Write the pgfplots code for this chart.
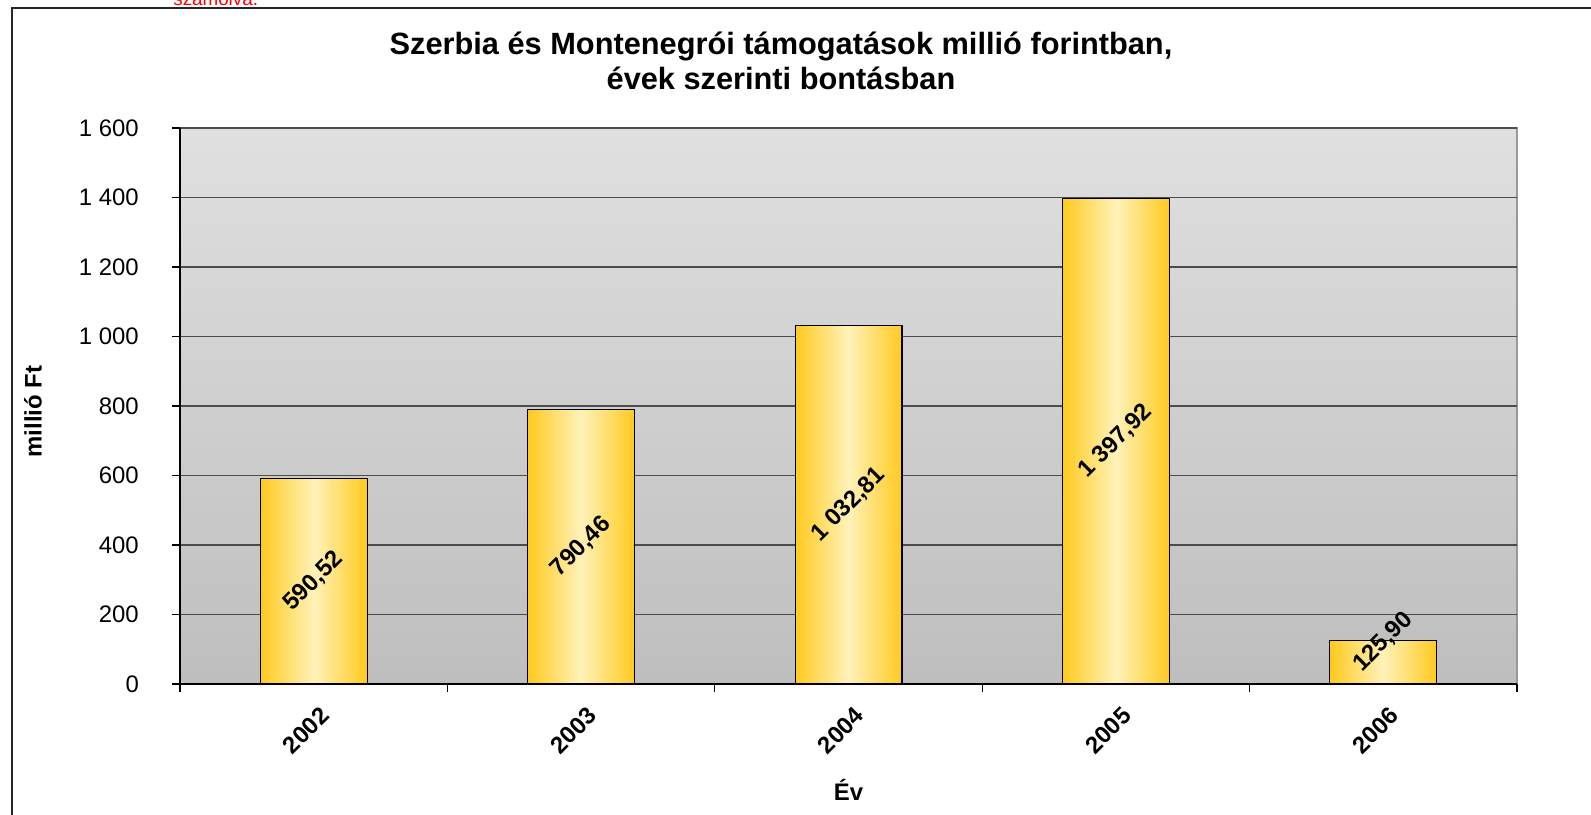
\documentclass[border=0pt]{standalone}
\usepackage{fontspec}
\setmainfont{Liberation Sans}
\usepackage{pgfplots}
\pgfplotsset{compat=1.18}

\definecolor{barGold}{RGB}{255,202,30}
\definecolor{barCream}{RGB}{255,242,186}
\definecolor{bgTop}{RGB}{224,224,224}
\definecolor{bgBottom}{RGB}{190,190,190}

% one bar per \addplot, so that each bar gets its own left-right shading
\pgfplotsset{goldbar/.style={
    ybar, bar width=0.4, bar shift=0pt, draw=black, line width=0.6pt,
    left color=barGold, right color=barGold, middle color=barCream,
    visualization depends on={y \as \rawy},
    nodes near coords,
    point meta=y,
    every node near coord/.append style={
        /pgf/number format/.cd, fixed, fixed zerofill, precision=2, use comma, 1000 sep={\ },
        /tikz/.cd,
        shift={(axis direction cs:0,{max(\rawy/2,120)-\rawy})},
        rotate=45, anchor=center, black,
        font=\bfseries\fontsize{13.6}{16}\selectfont},
}}

\begin{document}
\begin{tikzpicture}
\useasboundingbox (0,0) rectangle (31.82,16.28);
% outer chart frame
\draw[line width=1.1pt, black!85] (0.24,-1) -- (0.24,16.12) -- (33,16.12);
% cut-off note above the chart
\node[anchor=base west, inner sep=0pt, text=red, font=\fontsize{10.7}{13}\selectfont]
  at (3.46,16.16) {számolva.};
% title
\node[align=center, font=\bfseries\fontsize{17.5}{19.5}\selectfont] at (15.62,15.06)
  {Szerbia és Montenegrói támogatások millió forintban,\\ évek szerinti bontásban};

\begin{axis}[
    at={(3.60cm,2.60cm)}, anchor=south west,
    scale only axis,
    width=26.74cm, height=11.12cm,
    xmin=-0.5, xmax=4.5,
    ymin=0, ymax=1600,
    ytick={0,200,...,1600},
    xtick={0,...,4},
    xticklabels={2002,2003,2004,2005,2006},
    minor xtick={-0.5,0.5,...,4.5},
    major x tick style={draw=none},
    tick align=outside,
    major tick length=0.16cm,
    minor tick length=0.15cm,
    axis x line*=bottom, axis y line*=left,
    axis line style={-, black, line width=0.8pt},
    every tick/.style={black, line width=0.6pt},
    axis background/.style={shade, top color=bgTop, bottom color=bgBottom, draw=gray!80, line width=0.8pt},
    ymajorgrids,
    grid style={black!70, line width=0.6pt},
    tick label style={font=\fontsize{13.6}{16}\selectfont},
    /pgf/number format/assume math mode=true,
    yticklabel style={/pgf/number format/.cd, 1000 sep={\ }, /tikz/.cd, xshift=-0.54cm},
    xticklabel style={font=\bfseries\fontsize{13.6}{16}\selectfont, xshift=2.8pt, yshift=-2.8pt, rotate=45, anchor=north east},
    xlabel={Év}, ylabel={millió Ft},
    every axis x label/.style={at={(axis description cs:0.5,-0.19)}, anchor=center, font=\bfseries\fontsize{13.6}{16}\selectfont},
    every axis y label/.style={at={(axis description cs:-0.11,0.49)}, anchor=center, rotate=90, font=\bfseries\fontsize{13.6}{16}\selectfont},
    clip=false,
]
\addplot[goldbar] coordinates {(0,590.52)};
\addplot[goldbar] coordinates {(1,790.46)};
\addplot[goldbar] coordinates {(2,1032.81)};
\addplot[goldbar] coordinates {(3,1397.92)};
\addplot[goldbar] coordinates {(4,125.90)};
\end{axis}
\end{tikzpicture}
\end{document}
